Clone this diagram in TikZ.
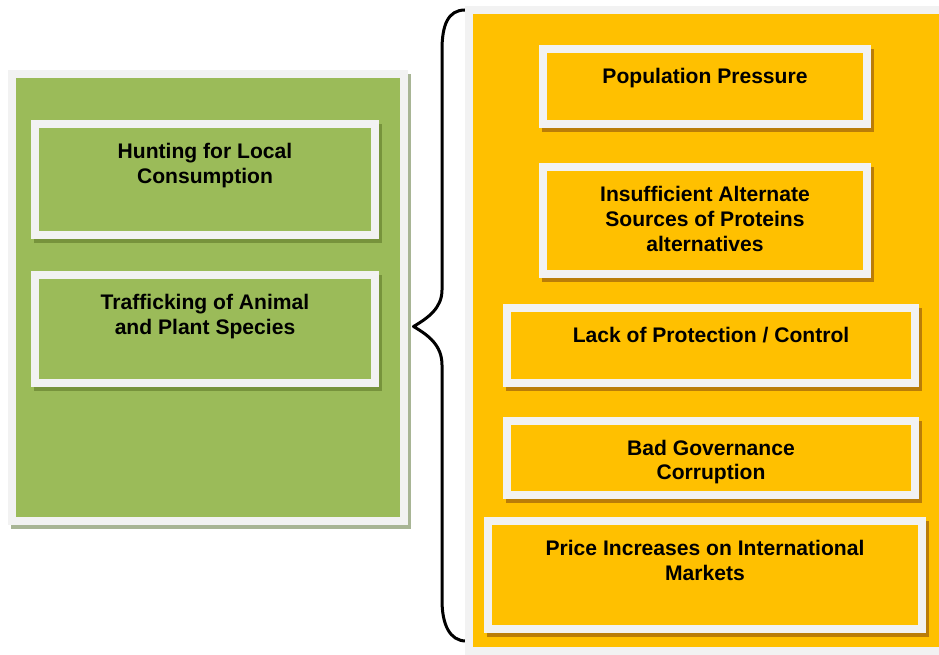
\documentclass[tikz,border=0pt]{standalone}
\usepackage{fontspec}
\setmainfont{Liberation Sans}
\usetikzlibrary{positioning, shadows}
\definecolor{panel-green}{HTML}{9BBB59}
\definecolor{panel-orange}{HTML}{FFC000}
\definecolor{frame-grey}{HTML}{F2F2F2}
\definecolor{green-shade}{HTML}{77933C}
\definecolor{orange-shade}{HTML}{BA7D08}
\definecolor{panel-shade}{HTML}{A8B595}

\begin{document}
\begin{tikzpicture}[
    framed/.style={draw=frame-grey, line width=0.16cm, inner sep=0pt, outer sep=0pt},
    shade box/.style={general shadow={shadow xshift=0.06cm, shadow yshift=-0.08cm,
      fill=#1, draw=#1, line width=0.16cm}},
    greenpanel/.style={framed, fill=panel-green, shade box=panel-shade},
    orangepanel/.style={framed, fill=panel-orange},
    greenbox/.style={framed, fill=panel-green, shade box=green-shade},
    orangebox/.style={framed, fill=panel-orange, shade box=orange-shade},
    cause/.style={font=\fontsize{12}{14}\selectfont\bfseries, align=center, inner sep=0pt},
    node distance=0.38cm]
    \useasboundingbox (0, 0) rectangle (18.78, 13.1);
    \node[greenpanel, minimum width=7.84cm, minimum height=8.94cm] (threats) at (4.16, 7.15) {};
    \node[greenbox, minimum width=6.8cm, minimum height=2.22cm] (hunting) at (4.10, 9.51) {};
    \node[greenbox, minimum width=6.8cm, minimum height=2.17cm] (trafficking) at (4.10, 6.516) {};
    \node[cause, below=of hunting.north] (hunting-text) {Hunting for Local\\Consumption};
    \node[cause, below=of trafficking.north] (trafficking-text) {Trafficking of Animal\\and Plant Species};

    \draw[line width=0.06cm, line cap=round, line join=round] (9.30, 12.90)
      .. controls (8.96, 12.90) and (8.84, 12.60) .. (8.84, 12.10) -- (8.84, 7.30)
      .. controls (8.84, 6.94) and (8.56, 6.74) .. (8.27, 6.57)
      .. controls (8.56, 6.40) and (8.84, 6.20) .. (8.84, 5.80) -- (8.84, 1.10)
      .. controls (8.84, 0.60) and (9.00, 0.28) .. (9.32, 0.28);

    \node[orangepanel, minimum width=9.62cm, minimum height=12.82cm] (drivers) at (14.19, 6.49) {};
    \node[orangebox, minimum width=6.47cm, minimum height=1.50cm] (population) at (14.10, 11.372) {};
    \node[orangebox, minimum width=6.47cm, minimum height=2.14cm] (proteins) at (14.10, 8.684) {};
    \node[orangebox, minimum width=8.15cm, minimum height=1.51cm] (protection) at (14.22, 6.186) {};
    \node[orangebox, minimum width=8.15cm, minimum height=1.49cm] (governance) at (14.22, 3.94) {};
    \node[orangebox, minimum width=8.67cm, minimum height=2.16cm] (prices) at (14.10, 1.594) {};
    \node[cause, below=of population.north] (population-text) {Population Pressure};
    \node[cause, below=of proteins.north] (proteins-text) {Insufficient Alternate\\Sources of Proteins\\alternatives};
    \node[cause, below=of protection.north] (protection-text) {Lack of Protection / Control};
    \node[cause, below=of governance.north] (governance-text) {Bad Governance\\Corruption};
    \node[cause, below=of prices.north] (prices-text) {Price Increases on International\\Markets};
  \end{tikzpicture}
\end{document}
